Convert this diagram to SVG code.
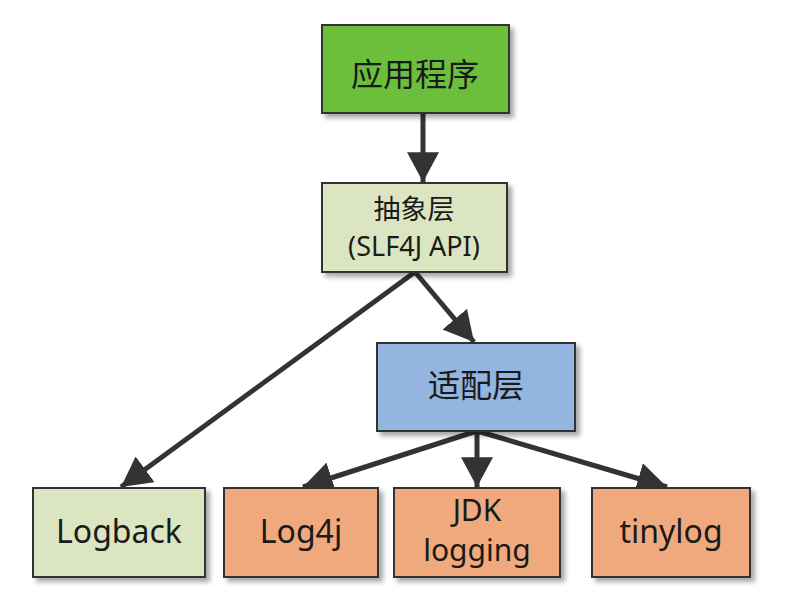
<svg xmlns="http://www.w3.org/2000/svg" width="804" height="610" viewBox="0 0 804 610">
<defs>
<filter id="sh" x="-10%" y="-10%" width="130%" height="130%">
<feGaussianBlur in="SourceAlpha" stdDeviation="2.5"/>
<feOffset dx="4" dy="4" result="b"/>
<feComponentTransfer><feFuncA type="linear" slope="0.35"/></feComponentTransfer>
<feMerge><feMergeNode/><feMergeNode in="SourceGraphic"/></feMerge>
</filter>
<marker id="ah" markerUnits="userSpaceOnUse" markerWidth="32" markerHeight="32" refX="28" refY="15" orient="auto" viewBox="0 0 30 30">
<path d="M0,0 L28,15 L0,30 Z" fill="#333"/>
</marker>
</defs>
<style>
rect.box{stroke:#333;stroke-width:2;filter:url(#sh)}
text{font-family:"Noto Sans","Open Sans","Noto Sans CJK SC",sans-serif;font-size:32px;fill:#1a1a1a;text-anchor:middle}
text.s{font-size:30px}
text.t{font-size:27px}
.c line{stroke:#333;stroke-width:5}
</style>
<rect width="804" height="610" fill="#fff"/>
<g class="c" id="connectors">
<line x1="423" y1="113" x2="423" y2="182" marker-end="url(#ah)"/>
<line x1="415" y1="272" x2="121" y2="487" marker-end="url(#ah)"/>
<line x1="415" y1="272" x2="474" y2="342" marker-end="url(#ah)"/>
<line x1="477" y1="431" x2="303" y2="487" marker-end="url(#ah)"/>
<line x1="477" y1="431" x2="477" y2="487" marker-end="url(#ah)"/>
<line x1="477" y1="431" x2="667" y2="487" marker-end="url(#ah)"/>
</g>
<g id="app"><rect class="box" x="322" y="25" width="187" height="88" fill="#6cbf3a"/><text x="415" y="86">应用程序</text></g>
<g id="abstract"><rect class="box" x="322" y="183" width="185" height="89" fill="#dce5c2"/><text class="t" x="414" y="219">抽象层</text><text class="t" x="414" y="256">(SLF4J API)</text></g>
<g id="adapter"><rect class="box" x="377" y="343" width="198" height="88" fill="#93b5e0"/><text x="476" y="397">适配层</text></g>
<g id="logback"><rect class="box" x="33" y="488" width="172" height="89" fill="#dce5c2"/><text x="119" y="543">Logback</text></g>
<g id="log4j"><rect class="box" x="224" y="488" width="154" height="89" fill="#f0a97c"/><text x="301" y="543">Log4j</text></g>
<g id="jdk"><rect class="box" x="394" y="488" width="166" height="89" fill="#f0a97c"/><text class="s" x="477" y="521">JDK</text><text class="s" x="477" y="561">logging</text></g>
<g id="tinylog"><rect class="box" x="592" y="488" width="158" height="89" fill="#f0a97c"/><text x="671" y="543">tinylog</text></g>
</svg>
